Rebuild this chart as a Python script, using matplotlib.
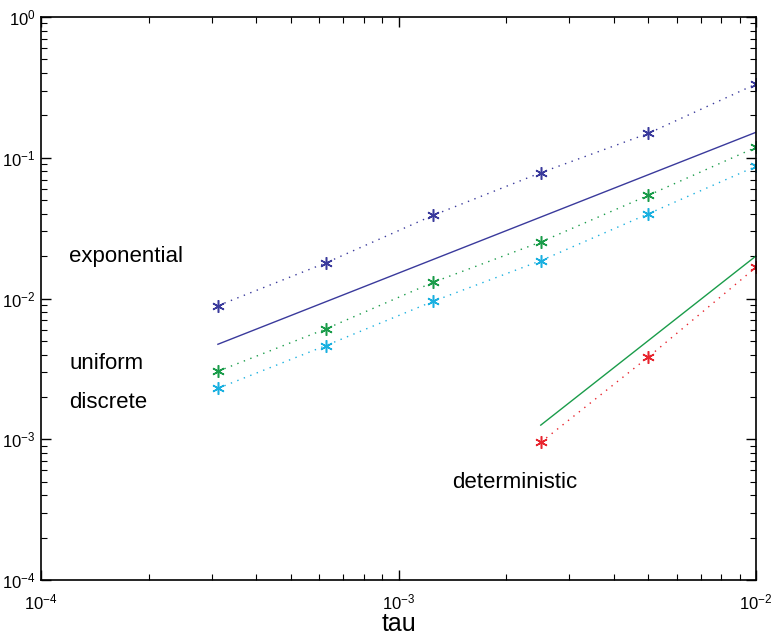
import numpy as np
import matplotlib.pyplot as plt
from matplotlib.ticker import LogLocator, LogFormatterMathtext, NullFormatter

# step sizes
tau = [3.125e-4, 6.25e-4, 1.25e-3, 2.5e-3, 5e-3, 1e-2]

# errors per noise type
err_exponential = [0.00889, 0.01787, 0.0390, 0.0783, 0.149, 0.334]
err_uniform = [0.00304, 0.00607, 0.01303, 0.0252, 0.0541, 0.1187]
err_discrete = [0.00230, 0.00462, 0.00955, 0.01856, 0.0400, 0.0869]
tau_det = [2.5e-3, 5e-3, 1e-2]
err_deterministic = [0.000951, 0.00384, 0.01666]

# reference slopes (order 1 and order 2)
ref1_tau = [3.125e-4, 1e-2]
ref1_err = [0.00473, 0.1517]
ref2_tau = [2.5e-3, 1e-2]
ref2_err = [0.00126, 0.02005]

c_blue = '#3a3a9c'
c_green = '#1a9c4a'
c_cyan = '#1ab0e0'
c_red = '#e8252e'

plt.rcParams['font.family'] = ['Liberation Sans', 'DejaVu Sans']

fig = plt.figure(figsize=(7.73, 6.37), dpi=100)
ax = fig.add_axes([41 / 773, 57 / 637, 715 / 773, 563 / 637])

star = (6, 2, 0)
dots = (0, (1, 4))
for y, col in [(err_exponential, c_blue), (err_uniform, c_green),
               (err_discrete, c_cyan)]:
    ax.plot(tau, y, color=col, ls=dots, lw=1, marker=star, ms=9, mew=1.1)
ax.plot(tau_det, err_deterministic, color=c_red, ls=dots, lw=1,
        marker=star, ms=9, mew=1.1)

ax.plot(ref1_tau, ref1_err, color=c_blue, lw=1)
ax.plot(ref2_tau, ref2_err, color=c_green, lw=1)

ax.text(1.2e-4, 0.02, 'exponential', fontsize=16, va='center')
ax.text(1.2e-4, 0.00343, 'uniform', fontsize=16, va='center')
ax.text(1.2e-4, 0.00181, 'discrete', fontsize=16, va='center')
ax.text(1.41e-3, 4.89e-4, 'deterministic', fontsize=16, va='center')

ax.set_xscale('log')
ax.set_yscale('log')
ax.set_xlim(1e-4, 1e-2)
ax.set_ylim(1e-4, 1e0)

for axis in (ax.xaxis, ax.yaxis):
    axis.set_major_locator(LogLocator(base=10))
    axis.set_minor_locator(LogLocator(base=10, subs=np.arange(2, 10)))
    axis.set_major_formatter(LogFormatterMathtext())
    axis.set_minor_formatter(NullFormatter())

ax.tick_params(which='both', direction='in', top=True, right=True,
               labelsize=12)
ax.tick_params(which='major', length=7, width=1)
ax.tick_params(which='minor', length=4, width=0.8)
ax.tick_params(axis='x', which='major', pad=9)
ax.tick_params(axis='y', which='major', pad=4)
for s in ax.spines.values():
    s.set_linewidth(1.2)

ax.set_xlabel('tau', fontsize=18, labelpad=0)

fig.savefig('out.png', dpi=100)
